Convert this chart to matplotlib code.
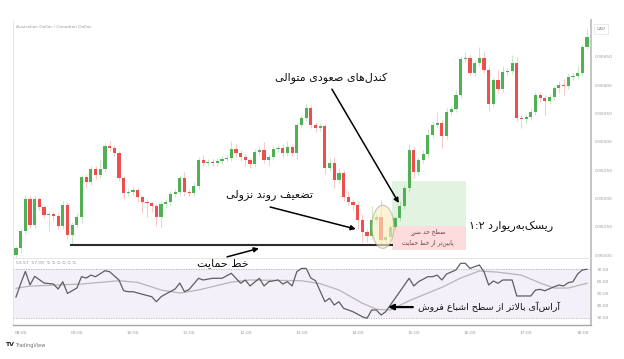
import re
import matplotlib
matplotlib.use('Agg')
import matplotlib.pyplot as plt
import numpy as np
from matplotlib.patches import Ellipse, Rectangle

# 5-minute AUD/CAD candles
first_open = 0.90100
closes = [0.90112, 0.90142, 0.90199, 0.90153, 0.90199, 0.90185, 0.90171, 0.90172, 0.90169, 0.90151,
          0.90188, 0.90135, 0.90153, 0.90167, 0.90238, 0.90229, 0.90252, 0.90241, 0.90252, 0.90293,
          0.90289, 0.90280, 0.90236, 0.90210, 0.90211, 0.90215, 0.90203, 0.90194, 0.90192, 0.90187,
          0.90167, 0.90190, 0.90194, 0.90208, 0.90211, 0.90236, 0.90211, 0.90210, 0.90222, 0.90268,
          0.90263, 0.90264, 0.90263, 0.90266, 0.90270, 0.90271, 0.90287, 0.90280, 0.90273, 0.90268,
          0.90261, 0.90282, 0.90286, 0.90268, 0.90273, 0.90287, 0.90289, 0.90280, 0.90291, 0.90280,
          0.90330, 0.90342, 0.90360, 0.90330, 0.90324, 0.90328, 0.90254, 0.90263, 0.90233, 0.90245,
          0.90203, 0.90194, 0.90189, 0.90162, 0.90141, 0.90134, 0.90162, 0.90167, 0.90126, 0.90132,
          0.90149, 0.90165, 0.90187, 0.90218, 0.90286, 0.90247, 0.90268, 0.90279, 0.90312, 0.90330,
          0.90333, 0.90310, 0.90353, 0.90358, 0.90383, 0.90446, 0.90448, 0.90422, 0.90439, 0.90448,
          0.90427, 0.90367, 0.90409, 0.90393, 0.90423, 0.90425, 0.90439, 0.90342, 0.90340, 0.90344,
          0.90353, 0.90383, 0.90377, 0.90372, 0.90379, 0.90395, 0.90401, 0.90399, 0.90415, 0.90416,
          0.90422, 0.90468, 0.90485]
# wick lengths above / below the body, in points (0.00001)
wick_up = [5, 5, 8, 5, 5, 4, 4, 6, 5, 5, 8, 5, 5, 8, 3, 6, 5, 5, 18, 5,
           8, 5, 4, 4, 6, 5, 4, 4, 5, 4, 4, 5, 5, 5, 5, 5, 10, 5, 8, 5,
           8, 6, 5, 5, 5, 6, 14, 10, 5, 5, 4, 6, 6, 14, 5, 6, 5, 8, 10, 5,
           5, 6, 8, 5, 5, 5, 4, 8, 10, 8, 5, 10, 6, 5, 10, 5, 25, 8, 30, 5,
           6, 5, 8, 6, 10, 5, 5, 6, 10, 6, 20, 5, 6, 6, 8, 5, 10, 5, 6, 20,
           10, 5, 5, 18, 10, 6, 15, 10, 5, 5, 6, 5, 5, 5, 6, 6, 6, 10, 6, 5,
           12, 5, 15]
wick_dn = [5, 8, 5, 5, 5, 5, 6, 28, 8, 5, 5, 6, 16, 5, 10, 8, 5, 6, 5, 5,
           5, 5, 6, 10, 6, 5, 10, 20, 25, 10, 15, 18, 6, 5, 5, 5, 6, 6, 5, 5,
           5, 6, 5, 5, 5, 5, 5, 6, 6, 10, 8, 5, 5, 6, 10, 5, 5, 6, 5, 5,
           10, 5, 5, 5, 6, 5, 10, 6, 15, 6, 8, 6, 10, 15, 18, 10, 5, 5, 6, 5,
           5, 5, 5, 5, 6, 10, 5, 5, 8, 5, 5, 20, 5, 5, 5, 6, 5, 6, 5, 5,
           6, 12, 6, 6, 5, 5, 5, 5, 16, 8, 5, 5, 6, 25, 5, 5, 8, 16, 5, 5,
           5, 5, 5]

time_ticks = [1, 13, 25, 37, 49, 61, 73, 85, 97, 109, 121]
time_labels = ['08:00', '09:00', '10:00', '11:00', '12:00', '13:00',
               '14:00', '15:00', '16:00', '17:00', '18:00']
price_ticks = [0.9010, 0.9015, 0.9020, 0.9025, 0.9030, 0.9035, 0.9040, 0.9045]

# RSI line and its moving average (candle index, value)
rsi_idx = [0, 1, 2, 3, 4, 6, 8, 9, 10, 11, 13, 14, 15, 16, 17, 19, 20, 22, 23, 24,
           25, 27, 29, 30, 31, 32, 34, 35, 36, 37, 39, 40, 42, 44, 46, 47, 48, 49, 50, 52,
           53, 54, 56, 57, 58, 59, 60, 61, 62, 63, 64, 66, 67, 68, 69, 70, 71, 72, 74, 75,
           76, 77, 78, 79, 80, 82, 84, 85, 86, 88, 89, 90, 91, 92, 94, 95, 96, 97, 98, 99,
           100, 101, 102, 103, 104, 106, 107, 108, 110, 111, 112, 113, 115, 116, 117, 118, 119, 120, 121, 122]
rsi_val = [47, 58, 68, 57, 64, 58.5, 57.7, 53.6, 59.6, 50, 54.4, 63.7, 62.6, 65, 63.7, 68.6, 67.8, 61, 52.2, 51.4,
           51.4, 49.3, 47.3, 43.2, 47.3, 49.5, 53.6, 58.5, 51.4, 53.3, 62.4, 61, 62.4, 62.4, 66.5, 62.4, 58.3, 61, 56.1, 62.4,
           56.1, 59.6, 61, 57.7, 59.6, 56.1, 67.8, 70.5, 70.5, 62.6, 60.4, 43.2, 46, 40.5, 43.2, 37.8, 36.4, 35, 30.9, 29.6,
           36.4, 36.4, 32.3, 35, 40.5, 51.4, 62.4, 56.1, 59.6, 63.7, 63.7, 65, 61, 65.9, 69.2, 74.7, 74.7, 70.5, 71.9, 73.3,
           67.8, 56.9, 60.2, 58.3, 61, 61, 47.9, 47.9, 47.9, 52.8, 53.3, 52.2, 55.5, 56.9, 56.1, 58.8, 59.6, 65.9, 69.2, 69.8]
ma_idx = [0, 3, 14, 22, 26, 31, 35, 39, 46, 50, 61, 65, 69, 74, 77, 80, 84, 91, 95, 99, 103, 108, 112, 115, 118, 122]
ma_val = [54.2, 56, 57.7, 60.4, 59, 52.8, 50.3, 52.8, 59.3, 61, 60.4, 58, 52.8, 42, 37, 36.4, 44, 55, 62.6, 68.4,
          67.4, 65, 58.5, 54.4, 54.4, 58.3]

W, H = 624, 359
UP, DOWN = '#4fb153', '#ef4e4e'

# ---- minimal Persian shaping (matplotlib has no RTL / joining support) ----
FORMS = {
    'ا': ('\uFE8D', '\uFE8E', None, None), 'آ': ('\uFE81', '\uFE82', None, None),
    'ب': ('\uFE8F', '\uFE90', '\uFE91', '\uFE92'), 'پ': ('\uFB56', '\uFB57', '\uFB58', '\uFB59'),
    'ت': ('\uFE95', '\uFE96', '\uFE97', '\uFE98'), 'ج': ('\uFE9D', '\uFE9E', '\uFE9F', '\uFEA0'),
    'ح': ('\uFEA1', '\uFEA2', '\uFEA3', '\uFEA4'), 'خ': ('\uFEA5', '\uFEA6', '\uFEA7', '\uFEA8'),
    'د': ('\uFEA9', '\uFEAA', None, None), 'ر': ('\uFEAD', '\uFEAE', None, None),
    'ز': ('\uFEAF', '\uFEB0', None, None), 'س': ('\uFEB1', '\uFEB2', '\uFEB3', '\uFEB4'),
    'ش': ('\uFEB5', '\uFEB6', '\uFEB7', '\uFEB8'), 'ص': ('\uFEB9', '\uFEBA', '\uFEBB', '\uFEBC'),
    'ض': ('\uFEBD', '\uFEBE', '\uFEBF', '\uFEC0'), 'ط': ('\uFEC1', '\uFEC2', '\uFEC3', '\uFEC4'),
    'ع': ('\uFEC9', '\uFECA', '\uFECB', '\uFECC'), 'ف': ('\uFED1', '\uFED2', '\uFED3', '\uFED4'),
    'ک': ('\uFB8E', '\uFB8F', '\uFB90', '\uFB91'), 'ل': ('\uFEDD', '\uFEDE', '\uFEDF', '\uFEE0'),
    'م': ('\uFEE1', '\uFEE2', '\uFEE3', '\uFEE4'), 'ن': ('\uFEE5', '\uFEE6', '\uFEE7', '\uFEE8'),
    'و': ('\uFEED', '\uFEEE', None, None), 'ه': ('\uFEE9', '\uFEEA', '\uFEEB', '\uFEEC'),
    'ی': ('\uFBFC', '\uFBFD', '\uFBFE', '\uFBFF'),
}


def fa(text):
    out, i = [], 0
    while i < len(text):
        c = text[i]
        if c == '\u200c':
            i += 1
            continue
        if c not in FORMS:
            out.append(c)
            i += 1
            continue
        prev = text[i - 1] if i > 0 else None
        nxt = text[i + 1] if i + 1 < len(text) else None
        jp = prev in FORMS and FORMS[prev][2] is not None
        if c == 'ل' and nxt == 'ا':
            out.append('\uFEFC' if jp else '\uFEFB')
            i += 2
            continue
        jn = FORMS[c][2] is not None and nxt in FORMS
        iso, fin, ini, med = FORMS[c]
        out.append(med if jp and jn else fin if jp else ini if jn else iso)
        i += 1
    vis = ''.join(out)[::-1]
    return re.sub(r'[0-9۰-۹:]+', lambda m: m.group(0)[::-1], vis)


def px(x, y):
    return x / W, 1 - y / H


fig = plt.figure(figsize=(W / 100, H / 100), dpi=100)
ax = fig.add_axes([13 / W, 1 - 258 / H, 578 / W, 238 / H])
axr = fig.add_axes([13 / W, 1 - 325 / H, 578 / W, 65 / H])

n = len(closes)
x = np.arange(n)
c = np.array(closes)
o = np.concatenate([[first_open], c[:-1]])
hi = np.maximum(o, c) + np.array(wick_up) * 1e-5
lo = np.minimum(o, c) - np.array(wick_dn) * 1e-5
col = np.where(c >= o, UP, DOWN)

ax.vlines(x, lo, hi, colors=col, alpha=0.3, lw=0.8, zorder=3)
ax.bar(x, np.maximum(np.abs(c - o), 2e-5), bottom=np.minimum(o, c), width=0.68,
       color=col, zorder=4)

ax.set_xlim(-0.64, 122.86)
ax.set_ylim(0.90095, 0.90515)

# position tool: reward (green) and risk (red) boxes
ax.add_patch(Rectangle((80.3, 0.90151), 15.9, 0.00080, color='#e3f3e1', zorder=1, lw=0))
ax.add_patch(Rectangle((80.3, 0.90110), 15.9, 0.00041, color='#fcdcdc', zorder=1, lw=0))

# support line
ax.plot([11.5, 80.5], [0.90118, 0.90118], color='#2b2b2b', lw=1.5, zorder=5,
        solid_capstyle='butt')

ax.add_patch(Ellipse((78.4, 0.90150), 4.7, 0.00076, facecolor='#fbeebf', alpha=0.65,
                     edgecolor='#a9a9a0', lw=0.8, zorder=6))

arrow = dict(arrowstyle='-|>', color='black', lw=1.1, mutation_scale=7,
             shrinkA=0, shrinkB=0)
ax.annotate('', xy=(81.8, 0.90192), xytext=(67.5, 0.90393), arrowprops=arrow, zorder=7)
ax.annotate('', xy=(72.6, 0.90146), xytext=(54.3, 0.90185), arrowprops=arrow, zorder=7)
ax.annotate('', xy=(51.9, 0.90112), xytext=(45.1, 0.90097), arrowprops=arrow,
            annotation_clip=False, zorder=7)

ax.spines['top'].set_visible(False)
ax.spines['left'].set_color('#e4e4e4')
ax.spines['left'].set_linewidth(0.6)
ax.spines['bottom'].set_color('#e0e0e0')
ax.spines['bottom'].set_linewidth(0.6)
ax.spines['right'].set_color('#c4c4c4')
ax.spines['right'].set_linewidth(1.4)
ax.set_xticks([])
ax.yaxis.tick_right()
ax.set_yticks(price_ticks)
ax.set_yticklabels(['%.5f' % p for p in price_ticks])
ax.tick_params(axis='y', length=0, pad=3, labelsize=3.2, labelcolor='#9a9a9a')

# RSI panel
axr.axhspan(30, 70, color='#f3f0fa', lw=0)
axr.axhline(70, color='#b0b0b0', lw=0.6, ls=(0, (1.5, 1.5)))
axr.axhline(30, color='#b0b0b0', lw=0.6, ls=(0, (1.5, 1.5)))
axr.plot(ma_idx, ma_val, color='#b5b5b5', lw=0.9)
axr.plot(rsi_idx, rsi_val, color='#5e5e5e', lw=0.9)
axr.set_xlim(-0.64, 122.86)
axr.set_ylim(24.1, 77.4)
axr.annotate('', xy=(79.5, 38.8), xytext=(84.8, 38.8),
             arrowprops=dict(arrowstyle='-|>', color='black', lw=1.6, mutation_scale=8,
                             shrinkA=0, shrinkB=0))
axr.spines['top'].set_visible(False)
axr.spines['left'].set_color('#e4e4e4')
axr.spines['left'].set_linewidth(0.6)
axr.spines['right'].set_color('#c4c4c4')
axr.spines['right'].set_linewidth(1.4)
axr.spines['bottom'].set_color('#a8a8a8')
axr.spines['bottom'].set_linewidth(1.0)
axr.yaxis.tick_right()
axr.set_yticks([30, 40, 50, 60, 70])
axr.set_yticklabels(['30.00', '40.00', '50.00', '60.00', '70.00'])
axr.set_xticks(time_ticks)
axr.set_xticklabels(time_labels)
axr.tick_params(length=0, pad=4, labelsize=3.2, labelcolor='#9a9a9a')

# texts
fig.text(*px(16, 27), 'Australian Dollar / Canadian Dollar,', fontsize=3.2, color='#a0a0a0',
         va='center')
fig.text(*px(601, 29), 'CAD', fontsize=3.2, color='#888888', ha='center', va='center',
         bbox=dict(boxstyle='square,pad=0.6', fc='white', ec='#e2e2e2', lw=0.5))
fig.text(*px(16, 263), '53.57  57.09  \u2205 \u2205 \u2205 \u2205 \u2205 \u2205', fontsize=3.2,
         color='#909090', va='center')
fig.text(*px(5, 345), 'TV', fontsize=4.5, color='#1e1e1e', weight='bold', va='center')
fig.text(*px(15, 345), 'TradingView', fontsize=3.6, color='#707070', va='center')

big = dict(fontsize=8, color='#111111', ha='center', va='center', family='DejaVu Sans')
fig.text(*px(331, 78), fa('کندل‌های صعودی متوالی'), **big)
fig.text(*px(269, 195), fa('تضعیف روند نزولی'), **big)
fig.text(*px(223, 263), fa('خط حمایت'), **big)
fig.text(*px(511, 226), fa('ریسک‌به‌ریوارد ۱:۲'), **big)
fig.text(*px(489, 307), fa('آراس‌آی بالاتر از سطح اشباع فروش'),
         **dict(big, fontsize=6.8))
small = dict(fontsize=4.2, color='#6b3a3a', ha='center', va='center', family='DejaVu Sans')
fig.text(*px(428, 232), fa('سطح حد ضرر'), **small)
fig.text(*px(428, 243), fa('پایین‌تر از خط حمایت'), **small)

fig.savefig('out.png', dpi=100)
